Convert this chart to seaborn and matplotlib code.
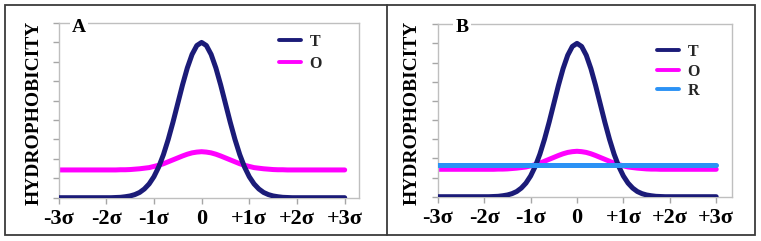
import matplotlib
matplotlib.use("Agg")
import matplotlib.pyplot as plt
from matplotlib.patches import Rectangle
from matplotlib.lines import Line2D
import seaborn as sns
import pandas as pd

# ---- data ----
x_pos = [-3.0, -2.5, -2.0, -1.9, -1.8, -1.7, -1.6, -1.5, -1.4, -1.3, -1.2, -1.1, -1.0,
         -0.9, -0.8, -0.7, -0.6, -0.5, -0.4, -0.3, -0.2, -0.1, 0.0,
         0.1, 0.2, 0.3, 0.4, 0.5, 0.6, 0.7, 0.8, 0.9, 1.0,
         1.1, 1.2, 1.3, 1.4, 1.5, 1.6, 1.7, 1.8, 1.9, 2.0, 2.5, 3.0]
T_vals = [0.0, 0.0, 0.0, 0.0, 0.01, 0.02, 0.05, 0.09, 0.16, 0.27, 0.45, 0.71, 1.08,
          1.58, 2.22, 3.00, 3.89, 4.85, 5.81, 6.68, 7.38, 7.84, 8.00,
          7.84, 7.38, 6.68, 5.81, 4.85, 3.89, 3.00, 2.22, 1.58, 1.08,
          0.71, 0.45, 0.27, 0.16, 0.09, 0.05, 0.02, 0.01, 0.0, 0.0, 0.0, 0.0]
O_vals = [1.43, 1.43, 1.43, 1.43, 1.43, 1.44, 1.44, 1.45, 1.47, 1.49, 1.52, 1.55, 1.61,
          1.67, 1.75, 1.85, 1.95, 2.05, 2.15, 2.24, 2.31, 2.35, 2.37,
          2.35, 2.31, 2.24, 2.15, 2.05, 1.95, 1.85, 1.75, 1.67, 1.61,
          1.55, 1.52, 1.49, 1.47, 1.45, 1.44, 1.44, 1.43, 1.43, 1.43, 1.43, 1.43]
R_x = [-3.0, 3.0]
R_vals = [1.65, 1.65]

x_ticks = [-3, -2, -1, 0, 1, 2, 3]
x_labels = ["-3\u03c3", "-2\u03c3", "-1\u03c3", "0", "+1\u03c3", "+2\u03c3", "+3\u03c3"]
y_ticks = list(range(0, 10))
panel_names = ["A", "B"]
y_title = "HYDROPHOBICITY"

colors = {"T": "#1b1b78", "O": "#ff00ff", "R": "#2b92f5"}

sns.set_theme(style="white")
plt.rcParams["font.family"] = ["Liberation Serif", "DejaVu Serif"]

W, H = 761, 241
fig = plt.figure(figsize=(W / 100, H / 100), dpi=100)

def fx(px):
    return px / W

def fy(py):
    return 1 - py / H

# axes rectangles in pixels: left, top, right, bottom
rects = [(58.5, 23.0, 359.0, 197.7), (437.8, 24.2, 731.5, 196.7)]
xmax = [3.3, 3.33]

dfT = pd.DataFrame({"x": x_pos, "y": T_vals, "s": "T"})
dfO = pd.DataFrame({"x": x_pos, "y": O_vals, "s": "O"})
dfR = pd.DataFrame({"x": R_x, "y": R_vals, "s": "R"})

for i, (l, t, r, b) in enumerate(rects):
    ax = fig.add_axes([fx(l), fy(b), fx(r - l), (b - t) / H])
    series = [("O", dfO, 2), ("T", dfT, 3)]
    if i == 1:
        series.append(("R", dfR, 4))
    for name, df, z in series:
        sns.lineplot(data=df, x="x", y="y", ax=ax, color=colors[name], linewidth=3.6,
                     estimator=None, sort=False, zorder=z, legend=False)
    ax.set_xlim(-3, xmax[i])
    ax.set_ylim(0, 9)
    ax.set_xticks(x_ticks)
    ax.set_xticklabels(x_labels, fontsize=16, color="black", fontweight="bold")
    ax.set_yticks(y_ticks)
    ax.set_yticklabels([])
    ax.set_xlabel("")
    ax.set_ylabel("")
    ax.tick_params(axis="both", which="major", direction="out", length=4, width=1,
                   color="#a6a6a6", left=True, bottom=True, pad=4)
    for sp in ax.spines.values():
        sp.set_color("#bfbfbf")
        sp.set_linewidth(1.0)
    ax.set_facecolor("white")

    # panel letter
    lx = [79, 462][i]
    ax.text(fx(lx), fy(27), panel_names[i], transform=fig.transFigure, ha="center",
            va="center", fontsize=14, fontweight="bold", color="black",
            bbox=dict(facecolor="white", edgecolor="none", pad=1.5), zorder=10)

    # legend
    names = ["T", "O"] if i == 0 else ["T", "O", "R"]
    handles = [Line2D([0], [0], color=colors[n], lw=2.8) for n in names]
    anchor = [(279, 34), (657, 44)][i]
    ax.legend(handles, names, loc="upper left",
              bbox_to_anchor=(fx(anchor[0]), fy(anchor[1])),
              bbox_transform=fig.transFigure, frameon=False,
              prop={"size": 11.5, "weight": "bold"},
              handlelength=1.35, handletextpad=0.55,
              labelspacing=[0.35, 0.22][i], borderpad=0, borderaxespad=0)

    # y title
    yx = [34, 412][i]
    fig.text(fx(yx), fy(113), y_title, rotation=90, ha="center", va="center",
             fontsize=14, color="black", fontweight="bold")

# outer frame and divider
fig.add_artist(Rectangle((fx(5), fy(235)), fx(750), (235 - 5) / H,
                         transform=fig.transFigure, fill=False,
                         edgecolor="#3a3a3a", linewidth=1.3))
fig.add_artist(Line2D([fx(387), fx(387)], [fy(235), fy(5)],
                      transform=fig.transFigure, color="#3a3a3a", linewidth=1.3))

fig.savefig("out.png", dpi=100, facecolor="white")
